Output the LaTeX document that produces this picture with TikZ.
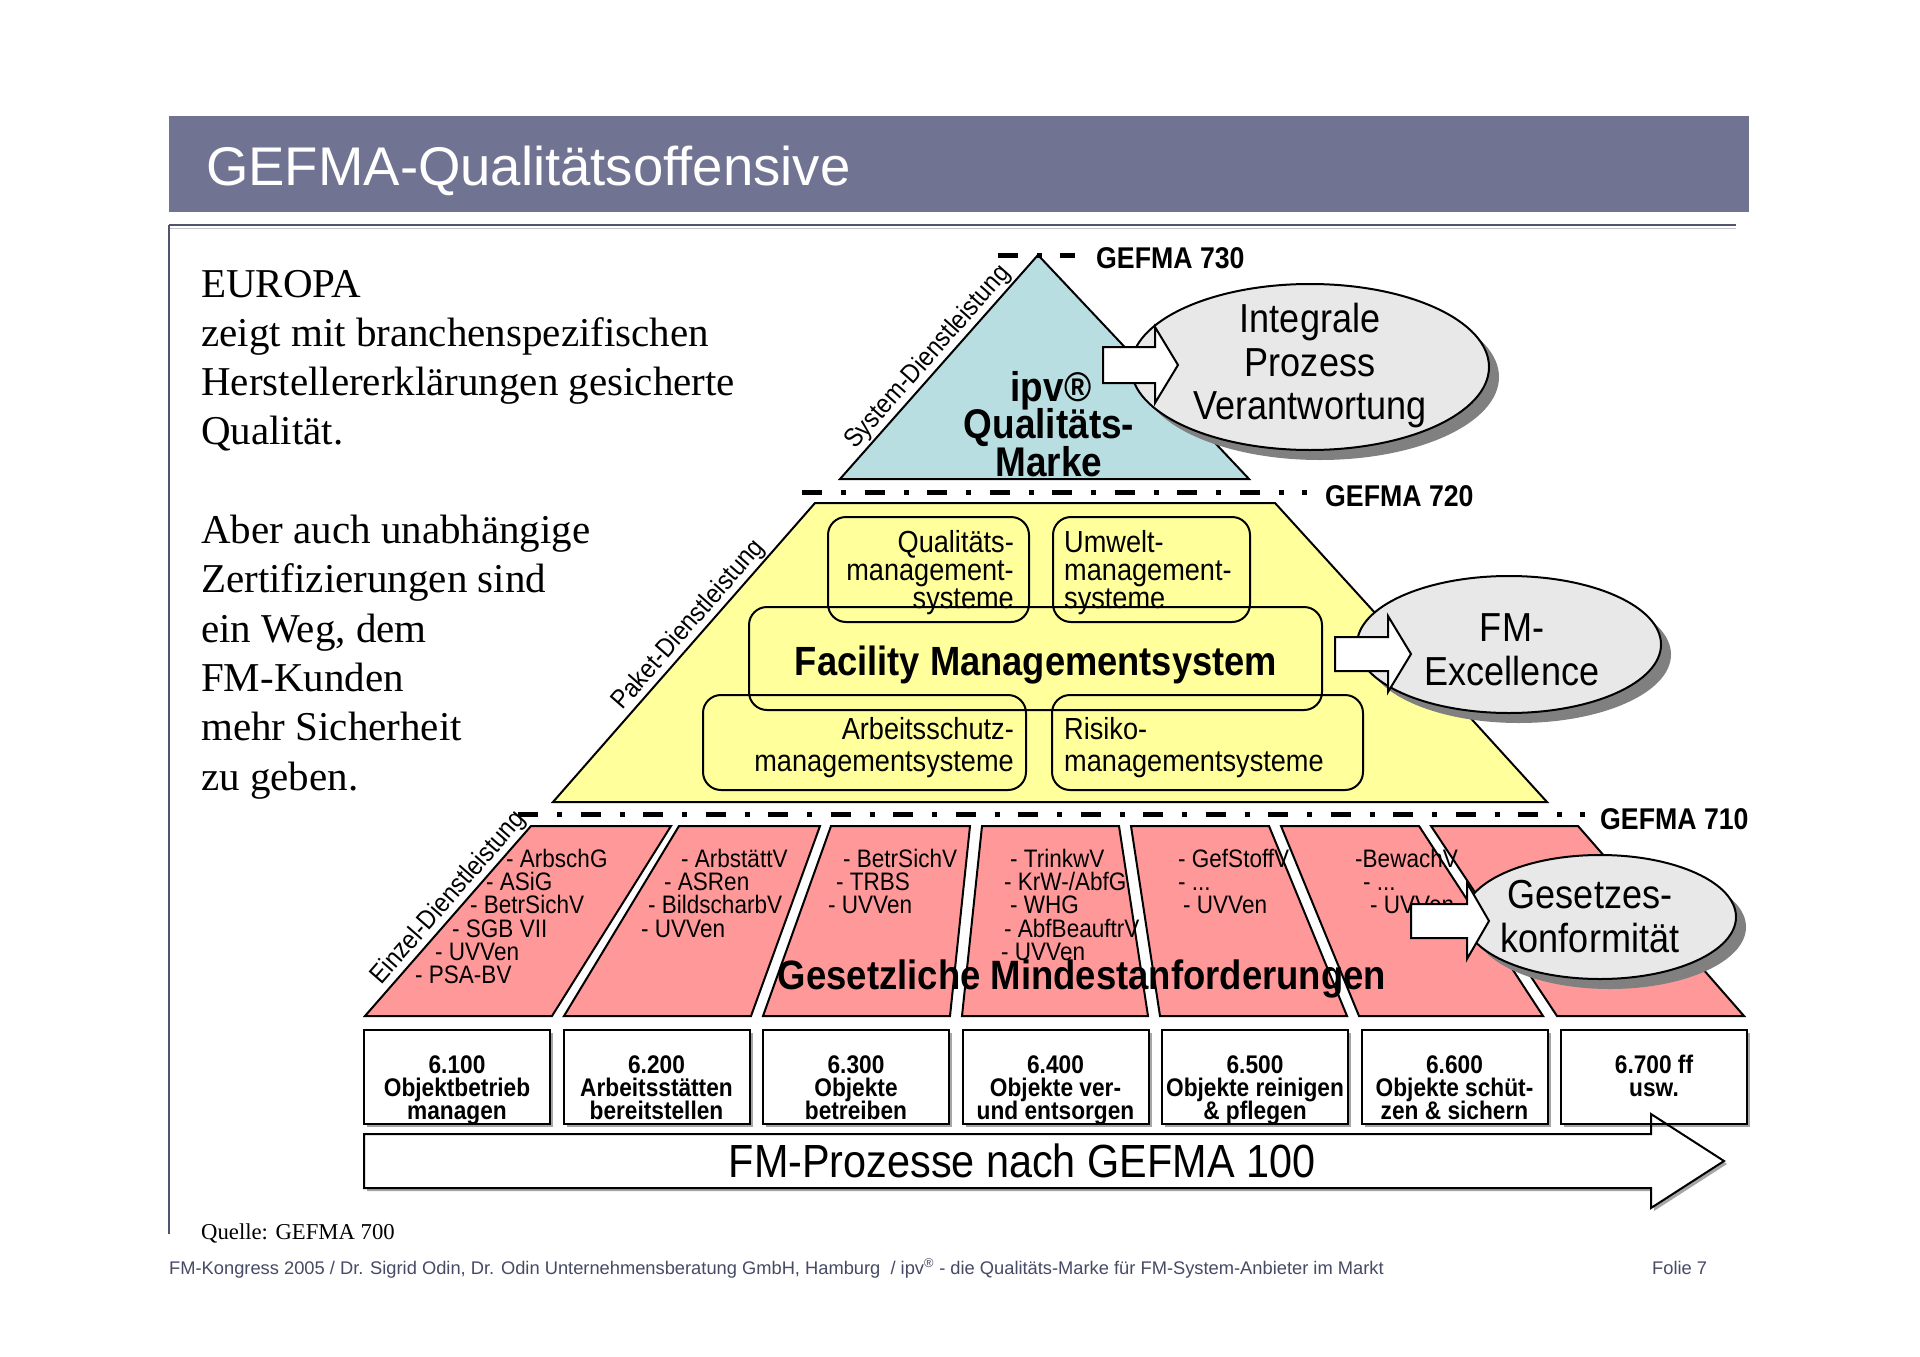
\documentclass[tikz,border=0pt]{standalone}
\usepackage{fontspec}
\setmainfont{Liberation Sans}
\newfontfamily\seriffont{Liberation Serif}
\newfontfamily\nf[FakeStretch=0.89]{Liberation Sans}
\usetikzlibrary{shapes.geometric}
\definecolor{titlebar}{RGB}{112,116,146}
\definecolor{frameline}{RGB}{80,84,110}
\definecolor{footcol}{RGB}{70,74,100}
\definecolor{pyrblue}{RGB}{184,222,226}
\definecolor{pyryellow}{RGB}{255,255,155}
\definecolor{pyrred}{RGB}{255,153,153}
\definecolor{ellfill}{RGB}{232,232,232}
\definecolor{shadowgray}{RGB}{128,128,128}
\newcommand\myfs[1]{\fontsize{#1}{#1}\selectfont}
\newcommand\mydots{...}
\newcommand\myblockarrow[6]{%
  \draw[blockarr] ({#1},{#4-#5}) -- ({#2},{#4-#5}) -- ({#2},{#4-#6}) -- ({#3},{#4})
    -- ({#2},{#4+#6}) -- ({#2},{#4+#5}) -- ({#1},{#4+#5}) -- cycle;}
\tikzset{
  pyrline/.style={draw=black, line width=2pt, line join=miter},
  blockarr/.style={draw=black, line width=2pt, fill=white, line join=miter},
  ellshape/.style={ellipse, draw=black, line width=2pt, fill=ellfill, inner sep=0pt},
  ellshadow/.style={ellipse, fill=shadowgray, inner sep=0pt},
  lefttext/.style={anchor=base west, inner sep=0pt, font=\seriffont\myfs{41}},
  gefmaline/.style={line width=5pt, black},
  gefmalabel/.style={anchor=base west, inner sep=0pt, font=\nf\bfseries\myfs{30}},
  elltext/.style={anchor=base, inner sep=0pt, font=\nf\myfs{40.5}},
  slantlabel/.style={sloped, anchor=south, inner sep=2pt, font=\nf\myfs{26.5}},
  ybox/.style={draw=black, line width=2pt, rounded corners=18pt},
  yboxtext/.style={inner sep=0pt, font=\nf\myfs{30.5}},
  listtext/.style={anchor=base west, inner sep=0pt, font=\nf\myfs{25.3}},
  btext/.style={anchor=base, inner sep=0pt, font=\nf\bfseries\myfs{25.5}},
  bbox/.style={draw=black, line width=2pt, fill=white},
}
\begin{document}
\begin{tikzpicture}[x=1pt,y=-1pt]
\useasboundingbox (0,0) rectangle (1920,1357);
\fill[white] (0,0) rectangle (1920,1357);

% ---------------- title and frame
\fill[titlebar] (169,116) rectangle (1749,212);
\node[anchor=base west, inner sep=0pt, text=white, font=\myfs{54.5}] (title) at (206,185) {GEFMA-Qualitätsoffensive};
\draw[frameline, line width=2.5pt] (169,225) -- (1736,225);
\draw[frameline!35, line width=1.5pt] (169,228.5) -- (1736,228.5);
\draw[frameline, line width=1.5pt] (169,225) -- (169,1234);

% ---------------- left text
\foreach \t [count=\i from 0] in {EUROPA, zeigt mit branchenspezifischen, Herstellererklärungen gesicherte, Qualität.}
  \node[lefttext] (ta\i) at (201,{297+49.3*\i}) {\t};
\foreach \t [count=\i from 5] in {Aber auch unabhängige, Zertifizierungen sind, {ein Weg, dem}, FM-Kunden, mehr Sicherheit, zu geben.}
  \node[lefttext] (ta\i) at (201,{297+49.3*\i}) {\t};

% ---------------- top triangle
\coordinate (tA) at (1038,255);
\coordinate (tL) at (840,479);
\coordinate (tR) at (1249,479);
\draw[pyrline, fill=pyrblue] (tL) -- (tA) -- (tR) -- cycle;
\node[anchor=base, inner sep=0pt, font=\nf\bfseries\myfs{41.5}] (ipv1) at (1051,401) {ipv®};
\node[anchor=base, inner sep=0pt, font=\nf\bfseries\myfs{41.5}] (ipv2) at (1049,438.5) {Qualitäts-};
\node[anchor=base, inner sep=0pt, font=\nf\bfseries\myfs{41.5}] (ipv3) at (1049,476) {Marke};
\path (tL) -- (tA) node[slantlabel, pos=0.5] (lsys) {System-Dienstleistung};

% GEFMA 730 line
\draw[gefmaline] (998,255) -- (1018,255);
\draw[gefmaline] (1037,255) -- (1042,255);
\draw[gefmaline] (1060,255) -- (1075,255);
\node[gefmalabel] (g730) at (1096,268) {GEFMA 730};

% ellipse Integrale
\node[ellshadow, minimum width=358pt, minimum height=166pt] (e1s) at (1320,377) {};
\node[ellshape, minimum width=358pt, minimum height=166pt] (e1) at (1310,367) {};
\node[elltext] (e1a) at (1310,332.5) {Integrale};
\node[elltext] (e1b) at (1310,376.5) {Prozess};
\node[elltext] (e1c) at (1310,419.5) {Verantwortung};
\myblockarrow{1103}{1155}{1178}{365}{18}{38}

% ---------------- middle trapezoid
\coordinate (pTL) at (815,503);
\coordinate (pTR) at (1275,503);
\coordinate (pBR) at (1547,802);
\coordinate (pBL) at (553,802);
\draw[pyrline, fill=pyryellow] (pBL) -- (pTL) -- (pTR) -- (pBR) -- cycle;
\draw[ybox] (828,517) rectangle (1029,622);
\draw[ybox] (1053,517) rectangle (1250,622);
\draw[ybox] (749,607) rectangle (1322,710);
\draw[ybox] (703,695) rectangle (1026,790);
\draw[ybox] (1052,695) rectangle (1363,790);
\node[yboxtext, anchor=base east] (q1) at (1014,552) {Qualitäts-};
\node[yboxtext, anchor=base east] (q2) at (1014,580) {management-};
\node[yboxtext, anchor=base east] (q3) at (1014,608) {systeme};
\node[yboxtext, anchor=base west] (u1) at (1064,552) {Umwelt-};
\node[yboxtext, anchor=base west] (u2) at (1064,580) {management-};
\node[yboxtext, anchor=base west] (u3) at (1064,608) {systeme};
\node[anchor=base, inner sep=0pt, font=\nf\bfseries\myfs{40.8}] (fms) at (1036,675.5) {Facility Managementsystem};
\node[yboxtext, anchor=base east] (a1) at (1014,739.5) {Arbeitsschutz-};
\node[yboxtext, anchor=base east] (a2) at (1014,771) {managementsysteme};
\node[yboxtext, anchor=base west] (r1) at (1064,739.5) {Risiko-};
\node[yboxtext, anchor=base west] (r2) at (1064,771) {managementsysteme};
\path (pBL) -- (pTL) node[slantlabel, pos=0.56] (lpak) {Paket-Dienstleistung};

% GEFMA 720 line
\draw[gefmaline, dash pattern=on 20pt off 19pt on 5pt off 18.5pt] (802,492) -- (1283.5,492);
\draw[gefmaline] (1302,492) -- (1307,492);
\node[gefmalabel] (g720) at (1325,506) {GEFMA 720};

% ellipse FM-Excellence
\node[ellshadow, minimum width=304pt, minimum height=137pt] (e2s) at (1519,654.5) {};
\node[ellshape, minimum width=304pt, minimum height=137pt] (e2) at (1509,644.5) {};
\node[elltext] (e2a) at (1512,641.5) {FM-};
\node[elltext] (e2b) at (1512,685.5) {Excellence};
\myblockarrow{1335}{1388}{1411}{654}{17}{38}

% ---------------- red parallelograms
\foreach \a/\b/\c/\d in {531/671/552/365, 679/820/751/564, 831/970/950/763, 982/1119/1148/962, 1131/1269/1347/1160, 1281/1419/1543/1359, 1431/1578/1744/1557}
  \fill[pyrred] (\a,826) -- (\b,826) -- (\c,1016) -- (\d,1016) -- cycle;
\coordinate (s1tl) at (531,826);
\coordinate (s1bl) at (365,1016);
% lists
\foreach \x/\t [count=\i from 0] in {506/- ArbschG, 486/- ASiG, 470/- BetrSichV, 452/- SGB VII, 435/- UVVen, 415/- PSA-BV}
  \node[listtext] (la\i) at (\x,{867.4+23.26*\i}) {\t};
\foreach \x/\t [count=\i from 0] in {681/- ArbstättV, 664/- ASRen, 648/- BildscharbV, 641/- UVVen}
  \node[listtext] (lb\i) at (\x,{867.4+23.26*\i}) {\t};
\foreach \x/\t [count=\i from 0] in {843/- BetrSichV, 836/- TRBS, 828/- UVVen}
  \node[listtext] (lc\i) at (\x,{867.4+23.26*\i}) {\t};
\foreach \x/\t [count=\i from 0] in {1010/- TrinkwV, 1004/{- KrW-/AbfG}, 1010/- WHG, 1004/- AbfBeauftrV, 1001/- UVVen}
  \node[listtext] (ld\i) at (\x,{867.4+23.26*\i}) {\t};
\foreach \x/\t [count=\i from 0] in {1178/- GefStoffV, 1178/- \mydots, 1183/- UVVen}
  \node[listtext] (le\i) at (\x,{867.4+23.26*\i}) {\t};
\foreach \x/\t [count=\i from 0] in {1355/-BewachV, 1363/- \mydots, 1370/- UVVen}
  \node[listtext] (lf\i) at (\x,{867.4+23.26*\i}) {\t};
\node[anchor=base, inner sep=0pt, font=\nf\bfseries\myfs{41}] (gmin) at (1082,989) {Gesetzliche Mindestanforderungen};
\foreach \a/\b/\c/\d in {531/671/552/365, 679/820/751/564, 831/970/950/763, 982/1119/1148/962, 1131/1269/1347/1160, 1281/1419/1543/1359, 1431/1578/1744/1557}
  \draw[pyrline] (\a,826) -- (\b,826) -- (\c,1016) -- (\d,1016) -- cycle;
\path (s1bl) -- (s1tl) node[slantlabel, pos=0.57] (lein) {Einzel-Dienstleistung};

% GEFMA 710 line
\draw[gefmaline, dash pattern=on 20pt off 19pt on 5pt off 18.5pt] (518,814) -- (1562,814);
\draw[gefmaline] (1580,814) -- (1585,814);
\node[gefmalabel] (g710) at (1600,829) {GEFMA 710};

% ellipse Gesetzeskonformitaet
\node[ellshadow, minimum width=272pt, minimum height=124pt] (e3s) at (1610,927) {};
\node[ellshape, minimum width=272pt, minimum height=124pt] (e3) at (1600,917) {};
\node[elltext] (e3a) at (1590,908.5) {Gesetzes-};
\node[elltext] (e3b) at (1590,952.5) {konformität};
\myblockarrow{1411}{1467}{1489}{921}{17}{38}

% ---------------- process arrow and boxes
\fill[shadowgray!70] (367,1137) -- (1654,1137) -- (1654,1117) -- (1727,1164) -- (1654,1211) -- (1654,1191) -- (367,1191) -- cycle;
\fill[white] (364,1134) -- (1651,1134) -- (1651,1114) -- (1724,1161) -- (1651,1208) -- (1651,1188) -- (364,1188) -- cycle;
\foreach \i in {0,...,6} {
  \fill[shadowgray!70] ({367+199.5*\i},1033) rectangle ({367+199.5*\i+186},1127);
  \draw[bbox] ({364+199.5*\i},1030) rectangle ({364+199.5*\i+186},1124);
}
\foreach \a/\b/\c [count=\i from 0] in {6.100/Objektbetrieb/managen, 6.200/Arbeitsstätten/bereitstellen, 6.300/Objekte/betreiben, 6.400/Objekte ver-/und entsorgen, 6.500/Objekte reinigen/\& pflegen, 6.600/Objekte schüt-/zen \& sichern} {
  \node[btext] (bn\i) at ({457+199.5*\i},1073) {\a};
  \node[btext] (bo\i) at ({457+199.5*\i},1096) {\b};
  \node[btext] (bp\i) at ({457+199.5*\i},1119) {\c};
}
\node[btext] (bn6) at (1654,1073) {6.700 ff};
\node[btext] (bo6) at (1654,1096) {usw.};
\draw[pyrline] (364,1134) -- (1651,1134) -- (1651,1114) -- (1724,1161) -- (1651,1208) -- (1651,1188) -- (364,1188) -- cycle;
\node[anchor=base, inner sep=0pt, font=\nf\myfs{46.5}] (fmp) at (1022,1177) {FM-Prozesse nach GEFMA 100};

% ---------------- source and footer
\node[anchor=base west, inner sep=0pt, font=\seriffont\myfs{22.7}] (src) at (201,1239) {Quelle: GEFMA 700};
\node[anchor=base west, inner sep=0pt, text=footcol, font=\myfs{18.3}] (foot) at (169,1274) {FM-Kongress 2005 / Dr. Sigrid Odin, Dr. Odin Unternehmensberatung GmbH, Hamburg ~/ ipv\textsuperscript{®} - die Qualitäts-Marke für FM-System-Anbieter im Markt};
\node[anchor=base west, inner sep=0pt, text=footcol, font=\myfs{18.3}] (folie) at (1652,1274) {Folie 7};
\end{tikzpicture}
\end{document}
